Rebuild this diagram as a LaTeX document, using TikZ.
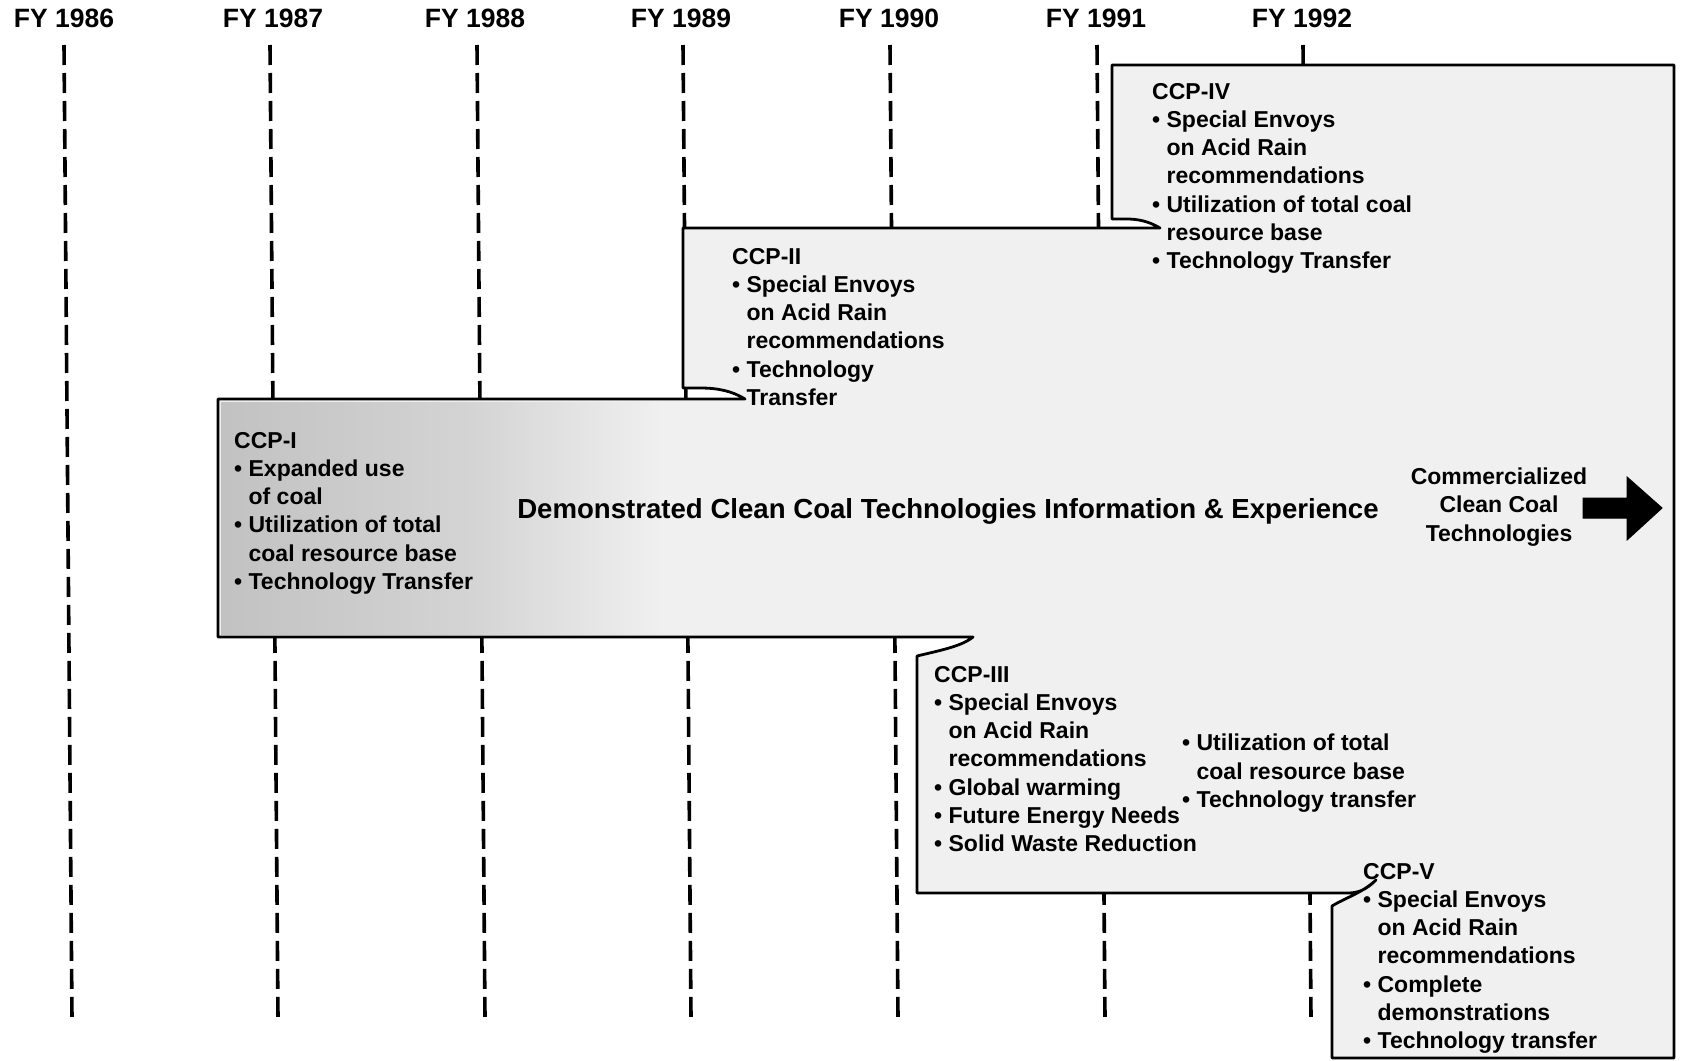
\documentclass[tikz,border=0pt]{standalone}
\usepackage{fontspec}
\newfontfamily\hv{Liberation Sans}
\newcommand\ind{\hphantom{\textbullet\ }}
\begin{document}
\begin{tikzpicture}[x=1pt,y=-1pt,
  fylab/.style={font=\hv\bfseries\fontsize{26.5}{30}\selectfont, inner sep=0pt},
  blk/.style={font=\hv\bfseries\fontsize{23}{28.2}\selectfont, align=left, inner sep=0pt, anchor=north west},
  comm/.style={font=\hv\bfseries\fontsize{23}{28.5}\selectfont, align=center, inner sep=0pt},
  big/.style={font=\hv\bfseries\fontsize{27.6}{32}\selectfont, inner sep=0pt},
  yearline/.style={line width=3.6pt, dash pattern=on 20pt off 8pt},
  outline/.style={draw=black, line width=2.8pt, line join=round, fill=black!6},
  bigarrow/.style={fill=black, draw=black, line width=1pt, line join=miter},
]
\useasboundingbox (0,0) rectangle (1681,1060);
\fill[white] (0,0) rectangle (1681,1060);

% year labels
\node[fylab] (fy86) at (64,18) {FY 1986};
\node[fylab] (fy87) at (273,18) {FY 1987};
\node[fylab] (fy88) at (475,18) {FY 1988};
\node[fylab] (fy89) at (681,18) {FY 1989};
\node[fylab] (fy90) at (889,18) {FY 1990};
\node[fylab] (fy91) at (1096,18) {FY 1991};
\node[fylab] (fy92) at (1302,18) {FY 1992};

% dashed year lines
\foreach \x/\n in {64/86, 270/87, 477/88, 683/89, 890/90, 1097/91, 1303/92} {
  \coordinate (t\n) at (\x,45);
  \coordinate (b\n) at (\x+8,1018);
  \draw[yearline] (t\n) -- (b\n);
}

% stepped outline of the programme
\path[outline]
 (1112,65) -- (1674,65) -- (1674,1058) -- (1332,1058) -- (1332,906)
 .. controls (1345,898) and (1362,893) .. (1376,880)
 .. controls (1366,890) and (1358,893) .. (1348,893)
 -- (917,893) -- (917,656)
 .. controls (942,650) and (962,646) .. (973,637)
 -- (218,637) -- (218,399) -- (745,399)
 .. controls (732,391) and (718,388) .. (700,388)
 -- (683,388) -- (683,228) -- (1160,228)
 .. controls (1148,221) and (1138,219) .. (1126,219)
 -- (1112,219) -- cycle;

% darker tone behind CCP-I
\fill[left color=black!24, right color=black!17] (221,402) rectangle (470,634);
\fill[left color=black!17, right color=black!6] (470,402) rectangle (660,634);

% text blocks
\node[blk] (ccp4) at (1152,83) {CCP-IV\\
\textbullet\ Special Envoys\\
\ind on Acid Rain\\
\ind recommendations\\
\textbullet\ Utilization of total coal\\
\ind resource base\\
\textbullet\ Technology Transfer};

\node[blk] (ccp2) at (732,248) {CCP-II\\
\textbullet\ Special Envoys\\
\ind on Acid Rain\\
\ind recommendations\\
\textbullet\ Technology\\
\ind Transfer};

\node[blk] (ccp1) at (234,432) {CCP-I\\
\textbullet\ Expanded use\\
\ind of coal\\
\textbullet\ Utilization of total\\
\ind coal resource base\\
\textbullet\ Technology Transfer};

\node[big] (demo) at (948,511) {Demonstrated Clean Coal Technologies Information \& Experience};

\node[comm] (commtxt) at (1499,507) {Commercialized\\Clean Coal\\Technologies};

\node[blk] (ccp3) at (934,666) {CCP-III\\
\textbullet\ Special Envoys\\
\ind on Acid Rain\\
\ind recommendations\\
\textbullet\ Global warming\\
\textbullet\ Future Energy Needs\\
\textbullet\ Solid Waste Reduction};

\node[blk] (ccp3b) at (1182,734) {\textbullet\ Utilization of total\\
\ind coal resource base\\
\textbullet\ Technology transfer};

\node[blk] (ccp5) at (1363,863) {CCP-V\\
\textbullet\ Special Envoys\\
\ind on Acid Rain\\
\ind recommendations\\
\textbullet\ Complete\\
\ind demonstrations\\
\textbullet\ Technology transfer};

% block arrow
\path[bigarrow] (1583,498) -- (1627,498) -- (1627,477) -- (1662,508)
  -- (1627,540) -- (1627,518) -- (1583,518) -- cycle;
\end{tikzpicture}
\end{document}
